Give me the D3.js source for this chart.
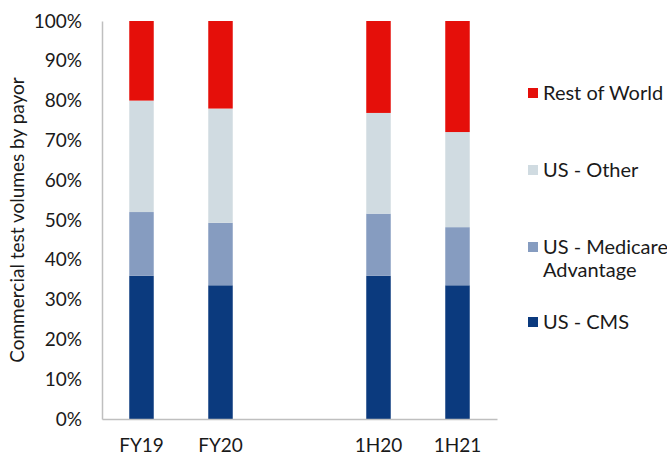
<!DOCTYPE html>
<html>
<head>
<meta charset="utf-8">
<script src="https://cdn.jsdelivr.net/npm/d3@7"></script>
<style>
  html, body { margin: 0; padding: 0; background: #fff; }
  text { font-family: Lato, "Open Sans", sans-serif; fill: #1a1a1a; }
</style>
</head>
<body>
<svg id="chart" width="667" height="458"></svg>
<script>
// Periods (blank slot separates full-year from half-year figures)
const categories = ["FY19", "FY20", "", "1H20", "1H21"];
const seriesNames = ["US - CMS", "US - Medicare Advantage", "US - Other", "Rest of World"];
const usCms = [36.0, 33.6, null, 36.0, 33.6];
const usMedicareAdvantage = [16.0, 15.7, null, 15.6, 14.6];
const usOther = [28.0, 28.7, null, 25.3, 23.9];
const restOfWorld = [20.0, 22.0, null, 23.1, 27.9];
const yTicks = [0, 10, 20, 30, 40, 50, 60, 70, 80, 90, 100];
const colors = ["#0B3A7E", "#869CC0", "#D0DBE1", "#E50F0A"];

const svg = d3.select("#chart");
const margin = { left: 102, right: 170, top: 21, bottom: 39 };
const W = 667, H = 458;

const x = d3.scaleBand().domain(d3.range(categories.length))
  .range([margin.left, W - margin.right]).paddingInner(0.69).paddingOuter(0.345);
const y = d3.scaleLinear().domain([0, 100]).range([H - margin.bottom, margin.top]);

const rows = categories.map((c, i) => ({
  i, cat: c,
  "US - CMS": usCms[i], "US - Medicare Advantage": usMedicareAdvantage[i],
  "US - Other": usOther[i], "Rest of World": restOfWorld[i]
})).filter(r => r.cat !== "");

const stacked = d3.stack().keys(seriesNames)(rows);

svg.append("g").selectAll("g").data(stacked).join("g")
  .attr("fill", (d, k) => colors[k])
  .selectAll("rect").data(d => d).join("rect")
  .attr("x", d => x(d.data.i))
  .attr("width", x.bandwidth())
  .attr("y", d => y(d[1]))
  .attr("height", d => y(d[0]) - y(d[1]));

// Axes
const yAxis = svg.append("g").attr("transform", `translate(${margin.left},0)`)
  .call(d3.axisLeft(y).tickValues(yTicks).tickFormat(d => d + "%").tickSize(0).tickPadding(20));
yAxis.select(".domain").attr("stroke", "#BFBFBF").attr("stroke-width", 1.5);
yAxis.selectAll("text").style("font-size", "19px").attr("fill", "#1a1a1a");

const xAxis = svg.append("g").attr("transform", `translate(0,${H - margin.bottom})`)
  .call(d3.axisBottom(x).tickFormat(i => categories[i]).tickSize(0).tickPadding(20));
xAxis.select(".domain").attr("stroke", "#BFBFBF").attr("stroke-width", 1.5);
xAxis.selectAll("text").style("font-size", "19px").attr("fill", "#1a1a1a");

// Axis title
svg.append("text")
  .attr("transform", `translate(24,${(margin.top + H - margin.bottom) / 2}) rotate(-90)`)
  .attr("text-anchor", "middle")
  .style("font-size", "19px")
  .text("Commercial test volumes by payor");

// Legend (top to bottom mirrors the stack order)
const legend = [
  { name: "Rest of World", lines: ["Rest of World"], k: 3, y: 93 },
  { name: "US - Other", lines: ["US - Other"], k: 2, y: 170 },
  { name: "US - Medicare Advantage", lines: ["US - Medicare", "Advantage"], k: 1, y: 247 },
  { name: "US - CMS", lines: ["US - CMS"], k: 0, y: 322 }
];
const lg = svg.append("g").selectAll("g").data(legend).join("g")
  .attr("transform", d => `translate(528,${d.y})`);
lg.append("rect").attr("x", 0).attr("y", -5).attr("width", 10).attr("height", 10)
  .attr("fill", d => colors[d.k]);
lg.append("text").style("font-size", "20px")
  .selectAll("tspan").data(d => d.lines).join("tspan")
  .attr("x", 15).attr("dy", (d, j) => j === 0 ? "0.35em" : "1.15em")
  .text(d => d);
</script>
</body>
</html>
